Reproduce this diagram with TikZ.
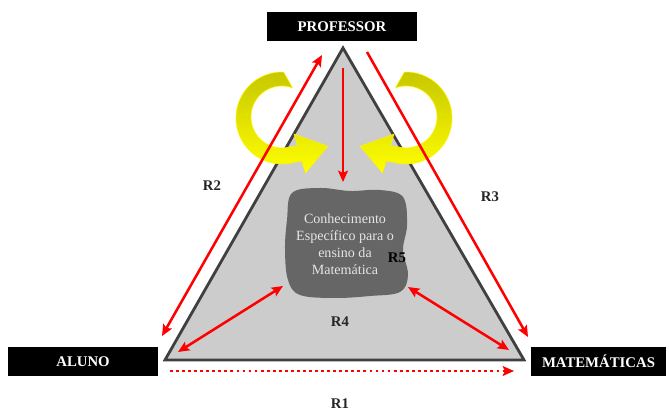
\documentclass[tikz,border=0pt]{standalone}
\usepackage{fontspec}
\setmainfont{Liberation Serif}
\usetikzlibrary{arrows.meta}

\tikzset{
  corner/.style={fill=black,text=white,inner sep=0pt,minimum height=0.725cm,
    font=\fontsize{10.5}{12}\selectfont\bfseries},
  rlabel/.style={text=black!85,font=\fontsize{10.5}{12}\selectfont\bfseries},
  redarrow/.style={red,line width=1.8pt,{Stealth[length=8pt,width=7pt,inset=1.5pt]}-{Stealth[length=8pt,width=7pt,inset=1.5pt]}},
  swirl/.style={draw=yellow,line width=0.4pt,top color=yellow!78!black,bottom color=yellow}
}

\begin{document}
\begin{tikzpicture}[x=0.025cm,y=0.025cm]
  \useasboundingbox (0,0) rectangle (669,412);
  % corners of the triangle
  \coordinate (top) at (343,364);
  \coordinate (left) at (165,52);
  \coordinate (right) at (524,52);
  \filldraw[fill=gray!40,draw=black!75,line width=2pt] (top) -- (left) -- (right) -- cycle;

  \node[corner,minimum width=3.75cm] (prof) at (342,385) {PROFESSOR};
  \node[corner,minimum width=3.75cm] (aluno) at (83,50.5) {ALUNO};
  \node[corner,minimum width=3.375cm] (mat) at (598.5,50.5) {MATEMÁTICAS};

  % the two turning arrows
  \foreach \s in {1,-1} {
    \begin{scope}[shift={(344,0)},xscale=\s]
      \path[swirl] (-62,294) ++(88:46) arc[start angle=88,end angle=285,radius=46]
        -- (-42.1,250.7) -- (-38.5,239.0) -- (-16.2,265.7) -- (-49.9,277.8)
        -- (-46.3,266.2) -- (-54.0,265.1) arc[start angle=285,end angle=70,radius=31] -- cycle;
    \end{scope}
  }

  % specific knowledge
  \fill[black!60] plot[smooth cycle,tension=0.6] coordinates {(292,219) (320,224) (350,221)
    (380,222) (403,215) (407,187) (403,162) (408,137) (400,120) (370,116) (335,114)
    (300,117) (288,132) (285,162) (287,192)};
  \node[align=center,text=white!90!black,font=\fontsize{10}{12}\selectfont] (know) at (345,168)
    {Conhecimento\\Específico para o\\ensino da\\Matemática};

  % relations
  \coordinate (r2a) at (322,357);
  \coordinate (r2b) at (162,76);
  \coordinate (r3a) at (367,360);
  \coordinate (r3b) at (528,75);
  \coordinate (pa) at (343,344);
  \coordinate (pb) at (343,230);
  \coordinate (r4a) at (283,126);
  \coordinate (r4b) at (178,60);
  \coordinate (r4c) at (408,125);
  \coordinate (r4d) at (509,62);
  \coordinate (r1a) at (170,41);
  \coordinate (r1b) at (514,41);
  \draw[redarrow] (r2a) -- (r2b);
  \draw[redarrow,arrows={-Stealth[length=8pt,width=7pt,inset=1.5pt]}] (r3a) -- (r3b);
  \draw[redarrow,arrows={-Stealth[length=8pt,width=7pt,inset=1.5pt]}] (pa) -- (pb);
  \draw[redarrow] (r4a) -- (r4b);
  \draw[redarrow] (r4c) -- (r4d);
  \draw[redarrow,line width=2pt,dash pattern=on 2pt off 2.3pt,
    arrows={-Stealth[length=8pt,width=7pt,inset=1.5pt]}] (r1a) -- (r1b);

  \node[rlabel] (l2) at (212,226) {R2};
  \node[rlabel] (l3) at (490,215) {R3};
  \node[rlabel] (l4) at (340,90) {R4};
  \node[rlabel] (l1) at (340,8) {R1};
  \node[rlabel,text=black] (l5) at (397,154) {R5};
\end{tikzpicture}
\end{document}
